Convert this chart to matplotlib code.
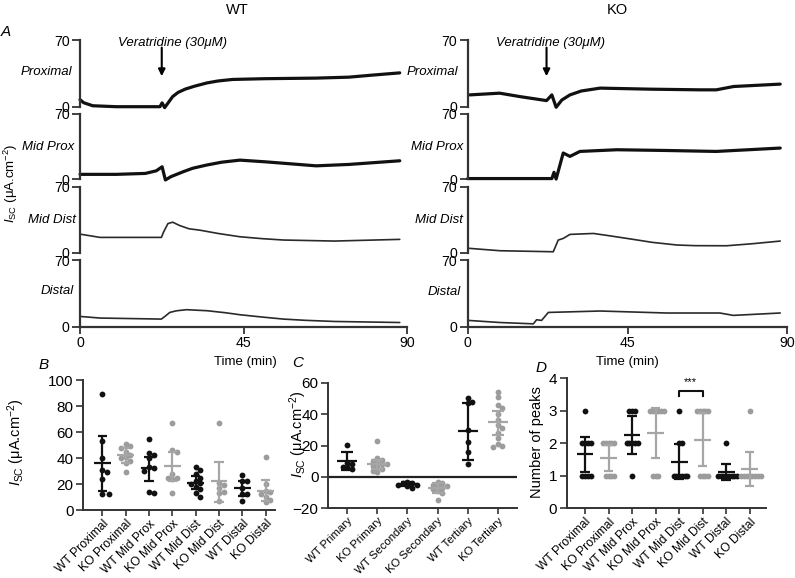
import matplotlib
matplotlib.use('Agg')
import matplotlib.pyplot as plt
import numpy as np

plt.rcParams['font.family'] = ['Liberation Sans', 'DejaVu Sans']
plt.rcParams['mathtext.fontset'] = 'custom'
plt.rcParams['mathtext.rm'] = 'Liberation Sans'
plt.rcParams['mathtext.it'] = 'Liberation Sans:italic'
plt.rcParams['mathtext.bf'] = 'Liberation Sans:bold'

# ---------------- DATA ----------------
segments = ['Proximal', 'Mid Prox', 'Mid Dist', 'Distal']
time_ticks = [0, 45, 90]

wt_prox_t = [0, 1, 3.5, 10, 22, 22.6, 23.3, 25.5, 27, 29, 31.5, 35, 38, 42, 51, 65, 74, 80, 88]
wt_prox_v = [7.4, 4.2, 1, 0, 0, 4, -1, 10.6, 15, 18.5, 21.5, 25, 27, 28.6, 29.4, 30, 31, 33, 35.5]
wt_midprox_t = [0, 10, 18, 21, 22.6, 23.5, 25, 28.4, 31, 34.8, 39, 44, 51, 65, 74, 88]
wt_midprox_v = [5.5, 5.5, 6.5, 9.3, 13.6, -0.5, 3, 8.3, 12, 15.4, 18.5, 20.7, 18.9, 14.6, 16.1, 20]
wt_middist_t = [0, 5.5, 22.4, 23, 24.2, 25.5, 27.4, 30, 33, 38, 44, 50, 56, 70, 88]
wt_middist_v = [19.8, 16.3, 16.3, 22, 31, 32.5, 29, 25.5, 24, 20.5, 17, 15, 13.5, 12.4, 14.2]
wt_distal_t = [0, 5.5, 22.4, 23.5, 24.7, 26.5, 29.3, 35, 40, 44, 50, 56, 62, 70, 88]
wt_distal_v = [10.6, 8.9, 7.8, 11, 14.8, 16.5, 17.7, 16.6, 14.5, 12.4, 10, 7.8, 6.5, 5.3, 4.2]

ko_prox_t = [0.6, 9, 14.7, 22.2, 23.7, 24.9, 26.5, 28.8, 32, 37.3, 51.4, 65.5, 70, 74.9, 88]
ko_prox_v = [12.4, 14.2, 10.6, 6.4, 12.4, -0.6, 7, 12.4, 16.5, 19.5, 18.4, 17.7, 17.7, 21.2, 23.7]
ko_midprox_t = [0, 23.7, 24.3, 24.9, 26.9, 28.8, 31.6, 42, 56, 70, 88]
ko_midprox_v = [1, 1, 7.7, 0.5, 28.3, 24.7, 30, 31.8, 31, 30, 33.6]
ko_middist_t = [0.2, 9.1, 24.1, 25.5, 26.9, 28.8, 35.4, 40, 46.6, 52, 58.9, 64, 72.9, 80, 88]
ko_middist_v = [4.7, 2.1, 1, 13.5, 15.2, 19.5, 20.5, 18, 14.2, 11, 8.2, 7.5, 7.4, 9.5, 12.4]
ko_distal_t = [0.2, 9.1, 18.5, 19.4, 20.8, 22.7, 37.3, 56, 71, 74.8, 88]
ko_distal_v = [6.4, 4.2, 2.8, 7.1, 6.4, 14.8, 16.3, 14.2, 14.2, 11.7, 14.2]

veratridine_time_wt = 22.5
veratridine_time_ko = 22.2

# Panel B
b_labels = ['WT Proximal', 'KO Proximal', 'WT Mid Prox', 'KO Mid Prox',
            'WT Mid Dist', 'KO Mid Dist', 'WT Distal', 'KO Distal']
b_points = [
    [89, 53, 40, 31, 29, 24, 12, 12],
    [51, 49, 48, 45, 42, 41, 40, 38, 36, 29],
    [55, 44, 42, 40, 33, 32, 30, 14, 13],
    [67, 46, 45, 28, 25, 25, 24, 13],
    [33, 31, 28, 25, 22, 21, 20, 18, 16, 13, 10],
    [67, 21, 19, 17, 14, 13, 7],
    [27, 22, 22, 17, 12, 12, 7],
    [41, 20, 15, 14, 12, 10, 8, 6],
]
b_mean = [36, 42, 32, 34, 21, 22, 17, 15]
b_lo = [15, 36, 22, 22, 16, 6, 11, 7]
b_hi = [57, 48, 41, 45, 26, 37, 22, 23]

# Panel C
c_labels = ['WT Primary', 'KO Primary', 'WT Secondary', 'KO Secondary',
            'WT Tertiary', 'KO Tertiary']
c_points = [
    [20.5, 9, 8, 6, 6, 5],
    [23, 12, 11, 10, 9, 8, 8, 7, 6, 5, 4, 3],
    [-3, -4, -4, -5, -5, -6, -7],
    [-3, -4, -5, -6, -6, -7, -8, -9, -10, -15],
    [50, 48, 47, 30, 22, 16, 8],
    [54, 51, 46, 44, 40, 36, 33, 31, 28, 25, 21, 20, 19],
]
c_mean = [10, 8, -4.8, -7, 29, 35]
c_lo = [4.5, 5, -6, -10.5, 11, 27]
c_hi = [16, 11, -3.5, -4, 47, 42]

# Panel D
d_labels = b_labels
d_points = [
    [3, 2, 2, 2, 2, 1, 1, 1, 1],
    [2, 2, 2, 2, 2, 1, 1, 1, 1],
    [3, 3, 3, 2, 2, 2, 2, 2, 1],
    [3, 3, 3, 3, 3, 3, 1, 1, 1],
    [3, 2, 2, 1, 1, 1, 1, 1, 1],
    [3, 3, 3, 3, 3, 1, 1, 1, 1],
    [2, 1, 1, 1, 1, 1, 1, 1, 1],
    [3, 1, 1, 1, 1, 1, 1, 1, 1],
]
d_mean = [1.67, 1.55, 2.25, 2.33, 1.44, 2.11, 1.11, 1.22]
d_lo = [1.12, 1.15, 1.67, 1.55, 0.9, 1.3, 0.86, 0.7]
d_hi = [2.2, 1.95, 2.83, 3.1, 1.97, 2.93, 1.36, 1.73]
d_sig_pair = (4, 5)
d_sig_text = '***'

# ---------------- FIGURE ----------------
W, H = 795, 578
fig = plt.figure(figsize=(W / 100, H / 100), dpi=100)

def add_ax(l, t, r, b):
    return fig.add_axes([l / W, 1 - b / H, (r - l) / W, (b - t) / H])

def ftext(x, y, s, **kw):
    fig.text(x / W, 1 - y / H, s, **kw)

SPINE = '#333333'
FS = 9.5
TFS = 10.2

traces = {
    'WT': [(wt_prox_t, wt_prox_v), (wt_midprox_t, wt_midprox_v),
           (wt_middist_t, wt_middist_v), (wt_distal_t, wt_distal_v)],
    'KO': [(ko_prox_t, ko_prox_v), (ko_midprox_t, ko_midprox_v),
           (ko_middist_t, ko_middist_v), (ko_distal_t, ko_distal_v)],
}
cols = {'WT': (80, 407), 'KO': (467.7, 787.3)}
rows = [(40, 106.7), (114, 179.5), (187, 252.7), (260, 326.5)]
line_w = [2.3, 2.3, 1.2, 1.2]
line_c = ['#111111', '#111111', '#2a2a2a', '#2a2a2a']

for key, (l, r) in cols.items():
    for i, (t, b) in enumerate(rows):
        ax = add_ax(l, t, r, b)
        ax.set_xlim(0, 90)
        ax.set_ylim(0, 70)
        ax.patch.set_alpha(0)
        tt, vv = traces[key][i]
        ax.plot(tt, vv, color=line_c[i], lw=line_w[i], clip_on=False,
                solid_joinstyle='round', solid_capstyle='round')
        for s in ['top', 'right']:
            ax.spines[s].set_visible(False)
        ax.spines['left'].set_color(SPINE)
        ax.spines['left'].set_linewidth(1.6)
        ax.set_yticks([0, 70])
        ax.tick_params(axis='y', length=6, width=1.3, color=SPINE,
                       labelsize=TFS, pad=1.5)
        if i < 3:
            ax.spines['bottom'].set_visible(False)
            ax.set_xticks([])
        else:
            ax.spines['bottom'].set_color(SPINE)
            ax.spines['bottom'].set_linewidth(1.6)
            ax.set_xticks(time_ticks)
            ax.tick_params(axis='x', length=5, width=1.3, color=SPINE,
                           labelsize=TFS, pad=2)
        if i == 0:
            vt = veratridine_time_wt if key == 'WT' else veratridine_time_ko
            ax.annotate('', xy=(vt, 32), xytext=(vt, 62),
                        arrowprops=dict(arrowstyle='-|>', color='black',
                                        lw=1.5, mutation_scale=10,
                                        shrinkA=0, shrinkB=0))

# panel A texts
ftext(237, 10, 'WT', fontsize=10.5, ha='center', va='center')
ftext(617, 10, 'KO', fontsize=10.5, ha='center', va='center')
ftext(6, 32, 'A', fontsize=11, style='italic', ha='center', va='center')
ftext(172.7, 43, 'Veratridine (30μM)', fontsize=FS, style='italic', ha='center', va='center')
ftext(550, 43, 'Veratridine (30μM)', fontsize=FS, style='italic', ha='center', va='center')
wt_seg_pos = [(72, 72), (74.5, 147), (76, 220), (74, 291)]
ko_seg_pos = [(458, 72), (463, 147), (463, 220), (461, 292)]
for name, (x, y) in zip(segments, wt_seg_pos):
    ftext(x, y, name, fontsize=FS, style='italic', ha='right', va='center')
for name, (x, y) in zip(segments, ko_seg_pos):
    ftext(x, y, name, fontsize=FS, style='italic', ha='right', va='center')
ftext(245, 362, 'Time (min)', fontsize=FS, ha='center', va='center')
ftext(627, 362, 'Time (min)', fontsize=FS, ha='center', va='center')
ylab = r'$I_{\mathrm{SC}}$ (μA.cm$^{-2}$)'
ftext(11, 183, ylab, fontsize=FS, rotation=90, ha='center', va='center')

# ---------------- scatter panels ----------------
WT_C = '#111111'
KO_DOT = '#9c9c9c'
KO_BAR = '#a6a6a6'

def swarm_x(ax, xc, vals, dia, factor):
    trans = ax.transData
    inv = trans.inverted()
    placed = []
    xs = np.zeros(len(vals))
    order = np.argsort(-np.asarray(vals, dtype=float), kind='stable')
    step = dia * factor * 0.5
    for idx in order:
        px, py = trans.transform((xc, vals[idx]))
        for k in range(0, 60):
            off = ((k + 1) // 2) * step * (1 if k % 2 == 1 else -1)
            cx = px + off
            if all((cx - qx) ** 2 + (py - qy) ** 2 >= (dia * factor) ** 2
                   for qx, qy in placed):
                break
        placed.append((cx, py))
        xs[idx] = inv.transform((cx, py))[0]
    return xs

def style_scatter_ax(ax, labels, fs_tick=11, fs_x=8.7):
    for s in ['top', 'right']:
        ax.spines[s].set_visible(False)
    for s in ['left', 'bottom']:
        ax.spines[s].set_color(SPINE)
        ax.spines[s].set_linewidth(1.4)
    ax.set_xticks(range(len(labels)))
    ax.set_xticklabels(labels, rotation=45, ha='right', va='top',
                       rotation_mode='anchor', fontsize=fs_x)
    ax.tick_params(axis='x', length=4, width=1.2, color=SPINE, pad=1.5)
    ax.tick_params(axis='y', length=5, width=1.2, color=SPINE,
                   labelsize=fs_tick, pad=2)
    ax.patch.set_alpha(0)

def draw_group(ax, points, means, los, his, factor, mw=0.36, cw=0.2):
    for i, pts in enumerate(points):
        wt = (i % 2 == 0)
        dc = WT_C if wt else KO_DOT
        bc = WT_C if wt else KO_BAR
        xs = swarm_x(ax, i, pts, 5.5, factor)
        ax.plot(xs, pts, 'o', color=dc, ms=4.2, mew=0, zorder=3, clip_on=False)
        ax.vlines(i, los[i], his[i], color=bc, lw=1.6, zorder=4)
        ax.hlines([los[i], his[i]], i - cw, i + cw, color=bc, lw=1.6, zorder=4)
        ax.hlines(means[i], i - mw, i + mw, color=bc, lw=1.6, zorder=4)

# B
axB = add_ax(83.3, 380, 275, 510)
axB.set_xlim(-0.81, 7.4)
axB.set_ylim(0, 100)
axB.set_yticks([0, 20, 40, 60, 80, 100])
style_scatter_ax(axB, b_labels)
draw_group(axB, b_points, b_mean, b_lo, b_hi, 0.85)
ftext(16, 442, ylab, fontsize=10.5, rotation=90, ha='center', va='center')
ftext(44, 365, 'B', fontsize=11, style='italic', ha='center', va='center')

# C
axC = add_ax(328.3, 382.7, 516.7, 508.3)
axC.set_xlim(-0.63, 5.63)
axC.set_ylim(-20, 60)
axC.set_yticks([-20, 0, 20, 40, 60])
axC.set_yticklabels(['\u221220', '0', '20', '40', '60'])
style_scatter_ax(axC, c_labels, fs_x=8.2)
axC.axhline(0, color='#222222', lw=1.6, zorder=2)
draw_group(axC, c_points, c_mean, c_lo, c_hi, 0.85, mw=0.33, cw=0.2)
ftext(298, 434, ylab, fontsize=10.5, rotation=90, ha='center', va='center')
ftext(298, 363, 'C', fontsize=11, style='italic', ha='center', va='center')

# D
axD = add_ax(566.7, 378.3, 766, 508.3)
axD.set_xlim(-0.78, 7.7)
axD.set_ylim(0, 4)
axD.set_yticks([0, 1, 2, 3, 4])
style_scatter_ax(axD, d_labels)
draw_group(axD, d_points, d_mean, d_lo, d_hi, 0.5)
a, b = d_sig_pair
yb = max(max(d_points[a]), max(d_points[b])) + 0.6
axD.plot([a, a, b, b], [yb - 0.15, yb, yb, yb - 0.15], color='#111111', lw=1.5)
axD.text((a + b) / 2, yb + 0.12, d_sig_text, ha='center', va='bottom', fontsize=8)
ftext(537, 442, 'Number of peaks', fontsize=10.5, rotation=90, ha='center', va='center')
ftext(541, 368, 'D', fontsize=11, style='italic', ha='center', va='center')

fig.savefig('out.png', dpi=100)
